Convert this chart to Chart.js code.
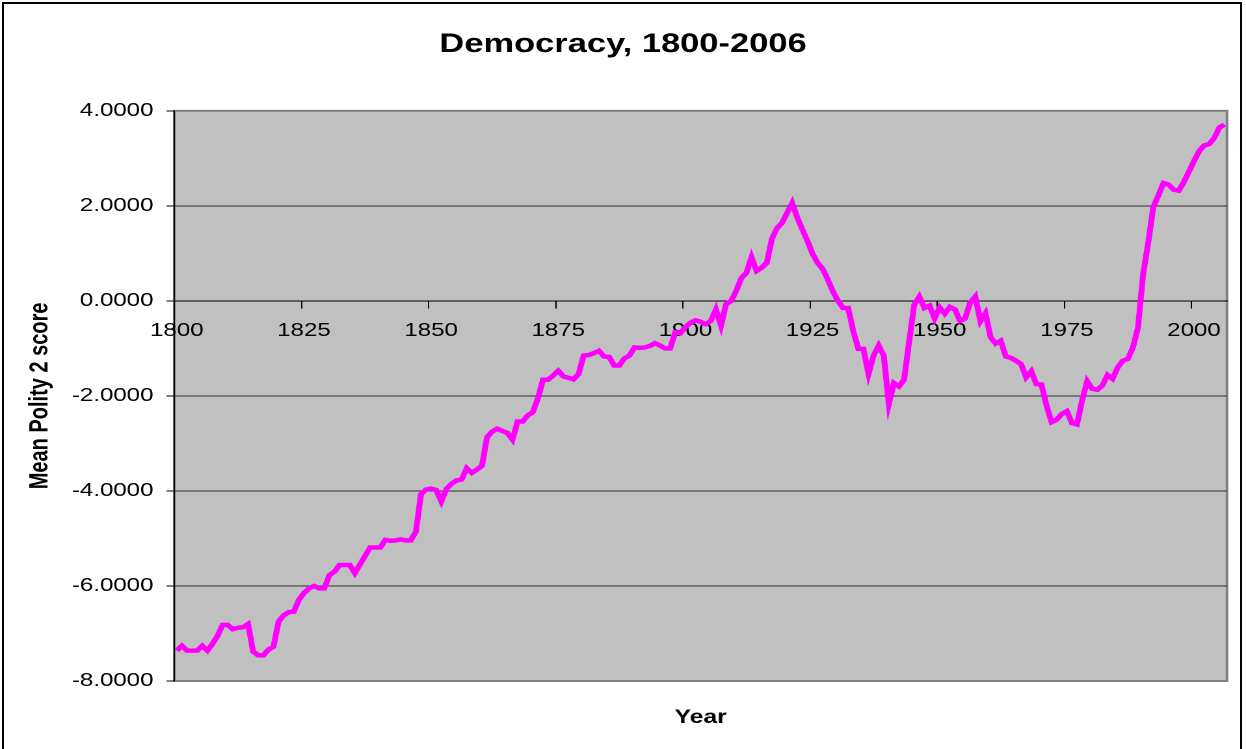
<!DOCTYPE html>
<html>
<head>
<meta charset="utf-8">
<title>Democracy, 1800-2006</title>
<script src="https://cdn.jsdelivr.net/npm/chart.js"></script>
<style>
  html, body { margin: 0; padding: 0; background: #fff; overflow: hidden; }
  #frame {
    position: absolute; left: 2px; top: 2px; width: 1240px; height: 800px;
    border: 2px solid #000; box-sizing: border-box;
  }
  /* the reference image is stretched sideways, so the chart is drawn narrower and widened */
  #wrap {
    position: absolute; left: 0; top: 0; width: 958px; height: 749px;
    transform: scaleX(1.30063); transform-origin: 0 0;
  }
</style>
</head>
<body>
<div id="frame"></div>
<div id="wrap">
  <canvas id="chart" width="958" height="749"></canvas>
</div>
<script>
// Years 1800..2006, one category each
const years = [];
for (let y = 1800; y <= 2006; y++) years.push(y);

// Mean Polity 2 score (one row per decade)
const polity2 = [
  -7.36, -7.26, -7.36, -7.36, -7.36, -7.26, -7.36, -7.22, -7.05, -6.82, // 1800
  -6.82, -6.91, -6.88, -6.87, -6.80, -7.38, -7.46, -7.46, -7.34, -7.28, // 1810
  -6.75, -6.62, -6.55, -6.54, -6.29, -6.15, -6.05, -6.00, -6.05, -6.05, // 1820
  -5.77, -5.70, -5.56, -5.56, -5.56, -5.73, -5.55, -5.37, -5.19, -5.19, // 1830
  -5.19, -5.03, -5.05, -5.04, -5.02, -5.04, -5.04, -4.86, -4.07, -3.97, // 1840
  -3.95, -3.98, -4.22, -3.96, -3.85, -3.78, -3.76, -3.52, -3.62, -3.55, // 1850
  -3.47, -2.87, -2.75, -2.69, -2.74, -2.78, -2.92, -2.54, -2.54, -2.41, // 1860
  -2.34, -2.05, -1.66, -1.66, -1.57, -1.47, -1.59, -1.62, -1.65, -1.54, // 1870
  -1.15, -1.14, -1.10, -1.05, -1.17, -1.18, -1.36, -1.36, -1.21, -1.15, // 1880
  -0.98, -0.99, -0.98, -0.95, -0.89, -0.94, -1.00, -1.00, -0.66, -0.68, // 1890
  -0.55, -0.46, -0.41, -0.44, -0.49, -0.42, -0.18, -0.52, -0.07, 0.00,  // 1900
  0.21, 0.48, 0.59, 0.92, 0.63, 0.70, 0.80, 1.30, 1.53, 1.64,           // 1910
  1.85, 2.06, 1.75, 1.50, 1.26, 0.99, 0.80, 0.67, 0.45, 0.20,           // 1920
  0.00, -0.15, -0.15, -0.63, -1.01, -1.01, -1.54, -1.15, -0.94, -1.15,  // 1930
  -2.17, -1.73, -1.80, -1.66, -0.85, -0.08, 0.09, -0.15, -0.10, -0.37,  // 1940
  -0.14, -0.27, -0.13, -0.18, -0.42, -0.37, -0.04, 0.09, -0.43, -0.26,  // 1950
  -0.76, -0.90, -0.84, -1.17, -1.20, -1.26, -1.33, -1.61, -1.48, -1.75, // 1960
  -1.76, -2.20, -2.55, -2.50, -2.38, -2.32, -2.57, -2.60, -2.10, -1.69, // 1970
  -1.85, -1.87, -1.78, -1.56, -1.64, -1.40, -1.26, -1.22, -0.98, -0.56, // 1980
  0.56, 1.22, 1.97, 2.22, 2.48, 2.45, 2.34, 2.32, 2.50, 2.72,           // 1990
  2.94, 3.15, 3.27, 3.30, 3.43, 3.65, 3.71                              // 2000
];

// Labelled years on the category axis
const tickYears = [1800, 1825, 1850, 1875, 1900, 1925, 1950, 1975, 2000];
// Value axis range
const yMin = -8;
const yMax = 4;
const yStep = 2;

Chart.defaults.font.family = "'Liberation Sans', Arial, sans-serif";
Chart.defaults.color = '#000';

// grey plot background with a grey frame, like the spreadsheet chart
const plotArea = {
  id: 'plotArea',
  beforeDraw(chart) {
    const { ctx, chartArea: a } = chart;
    ctx.save();
    ctx.fillStyle = '#c0c0c0';
    ctx.fillRect(a.left, a.top, a.width, a.height);
    ctx.strokeStyle = '#808080';
    ctx.lineWidth = 2;
    ctx.strokeRect(a.left, a.top, a.width, a.height);
    ctx.restore();
  }
};

const ctx = document.getElementById('chart').getContext('2d');

new Chart(ctx, {
  type: 'line',
  data: {
    labels: years,
    datasets: [{
      label: 'Mean Polity 2 score',
      data: polity2,
      xAxisID: 'x',
      yAxisID: 'y',
      borderColor: '#ff00ff',
      borderWidth: 4.5,
      pointRadius: 0,
      tension: 0,
      fill: false
    }]
  },
  options: {
    responsive: false,
    devicePixelRatio: 2,
    animation: false,
    layout: { padding: 0 },
    plugins: {
      legend: { display: false },
      tooltip: { enabled: false },
      title: {
        display: true,
        text: 'Democracy, 1800-2006',
        color: '#000',
        font: { size: 26.5, weight: 'bold' },
        padding: { top: 29, bottom: 50 }
      }
    },
    scales: {
      x: {
        type: 'category',
        position: { y: 0 }, // axis crosses at zero
        offset: true,
        grid: {
          offset: true,
          drawOnChartArea: false,
          drawTicks: true,
          tickLength: 7,
          color: (c) => tickYears.includes(years[c.index]) ? '#000' : 'rgba(0,0,0,0)'
        },
        border: { color: '#000', width: 1 },
        ticks: {
          autoSkip: false,
          maxRotation: 0,
          minRotation: 0,
          padding: 12,
          color: '#000',
          font: { size: 18.5 },
          callback: (v, i) => tickYears.includes(years[i]) ? String(years[i]) : ''
        }
      },
      x2: {
        type: 'category',
        position: 'bottom',
        grid: { display: false, drawTicks: false },
        border: { display: false },
        ticks: { display: false },
        title: {
          display: true,
          text: 'Year',
          color: '#000',
          font: { size: 19, weight: 'bold' },
          padding: { top: 26, bottom: 20 }
        },
        afterFit: (s) => { s.height = 68; }
      },
      y: {
        min: yMin,
        max: yMax,
        ticks: {
          stepSize: yStep,
          padding: 10,
          color: '#000',
          font: { size: 18.5 },
          callback: (v) => Number(v).toFixed(4)
        },
        grid: {
          color: (c) => (c.tick && (c.tick.value === yMin || c.tick.value === yMax)) ? 'rgba(0,0,0,0)' : '#303030',
          tickColor: '#000',
          tickLength: 6
        },
        border: { color: '#000', width: 1 },
        title: {
          display: true,
          text: 'Mean Polity 2 score',
          color: '#000',
          font: { size: 20, weight: 'bold' },
          padding: { top: 19, bottom: 0 }
        },
        afterFit: (s) => { s.width = 134; }
      },
      // empty right margin so the title stays centred on the whole chart
      yRight: {
        type: 'linear',
        position: 'right',
        grid: { display: false, drawTicks: false },
        border: { display: false },
        ticks: { display: false },
        afterFit: (s) => { s.width = 14.6; }
      }
    }
  },
  plugins: [plotArea]
});
</script>
</body>
</html>
